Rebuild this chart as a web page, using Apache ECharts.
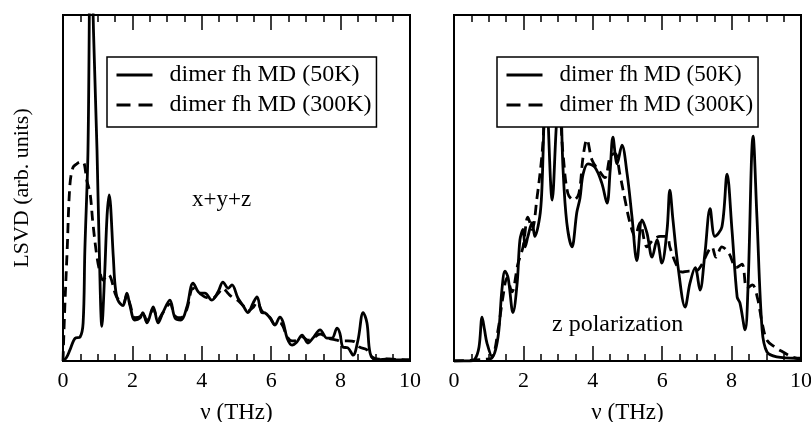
<!DOCTYPE html>
<html>
<head>
<meta charset="utf-8">
<script src="https://cdn.jsdelivr.net/npm/echarts@6/dist/echarts.min.js"></script>
<style>
  html, body { margin: 0; padding: 0; background: #fff; }
  #chart { width: 811px; height: 422px; }
</style>
</head>
<body>
<div id="chart"></div>
<script>
// Frequency axis ticks (THz)
const freqTicks = [0, 2, 4, 6, 8, 10];
const seriesNames = ['dimer fh MD (50K)', 'dimer fh MD (300K)'];
const panelLabels = ['x+y+z', 'z polarization'];

// Panel 1: x+y+z, 50 K
const xyzFreq50 = [0, 0.1, 0.2, 0.35, 0.49, 0.58, 0.63, 0.72, 0.8, 0.88, 0.98, 1.05, 1.12, 1.2, 1.27, 1.33, 1.45, 1.5, 1.58, 1.73, 1.84, 1.93, 2.07, 2.22, 2.3, 2.42, 2.6, 2.74, 2.88, 3.08, 3.23, 3.4, 3.57, 3.75, 3.95, 4.09, 4.29, 4.47, 4.61, 4.76, 4.87, 5.04, 5.19, 5.33, 5.48, 5.59, 5.73, 5.82, 5.97, 6.11, 6.25, 6.34, 6.46, 6.6, 6.74, 6.89, 7.06, 7.2, 7.41, 7.61, 7.75, 7.9, 7.98, 8.07, 8.21, 8.36, 8.5, 8.65, 8.76, 8.85, 9.0, 9.3, 9.6, 10];
const xyzLsvd50 = [0, 1, 3.2, 6.6, 6.9, 11, 32, 61, 130, 95, 61, 30, 10, 25, 42, 48, 30, 22, 17.6, 16, 19.6, 16, 11.8, 12.4, 14, 11, 15.6, 11, 14, 17.6, 12.4, 11.8, 15.6, 22.5, 19.6, 19.6, 17.6, 20, 22.8, 21, 22, 18.2, 16, 14, 16.8, 18.5, 14, 13.9, 12.4, 10.4, 12.7, 11.3, 6.6, 4.6, 5.5, 7.5, 5.2, 6.6, 9, 6.6, 6.6, 9.5, 8, 4, 3.8, 1.7, 6, 14, 11, 2.3, 0.3, 0.5, 0.3, 0.3];

// Panel 1: x+y+z, 300 K
const xyzFreq300 = [0, 0.05, 0.12, 0.2, 0.29, 0.4, 0.5, 0.58, 0.69, 0.78, 0.86, 0.98, 1.08, 1.15, 1.3, 1.38, 1.5, 1.58, 1.73, 1.84, 1.93, 2.07, 2.22, 2.3, 2.42, 2.6, 2.74, 2.88, 3.08, 3.23, 3.4, 3.57, 3.75, 3.95, 4.09, 4.29, 4.47, 4.61, 4.76, 4.87, 5.04, 5.19, 5.33, 5.48, 5.59, 5.73, 5.82, 5.97, 6.11, 6.25, 6.34, 6.46, 6.6, 6.74, 6.89, 7.06, 7.2, 7.41, 7.61, 7.75, 7.9, 8.0, 8.21, 8.4, 8.55, 8.76, 8.9, 9.1, 9.4, 9.7, 10];
const xyzLsvd300 = [0, 15, 32, 51, 56, 57, 57.5, 57.5, 52, 48.5, 40, 30, 25, 23.4, 25, 24, 19.6, 18, 16.5, 19, 16.5, 12.5, 12.8, 14, 11.5, 15, 12, 14, 16.5, 13, 12.5, 15, 21, 19.5, 18.5, 18, 19.5, 21, 19.5, 18.5, 17.5, 16, 14.5, 15.5, 17, 14.5, 13.5, 12.5, 10.5, 11, 10, 7, 5.8, 6, 7, 6, 6.5, 7.8, 6.8, 6.3, 6, 5.8, 5.8, 5.6, 4, 3.2, 1.2, 0.5, 0.6, 0.4, 0.3];

// Panel 2: z polarization, 50 K
const zFreq50 = [0, 0.46, 0.6, 0.72, 0.81, 0.88, 0.95, 1.1, 1.27, 1.38, 1.47, 1.56, 1.7, 1.82, 1.9, 1.99, 2.05, 2.13, 2.25, 2.33, 2.47, 2.53, 2.65, 2.83, 2.95, 3.05, 3.14, 3.25, 3.4, 3.54, 3.63, 3.72, 3.86, 4.06, 4.26, 4.41, 4.5, 4.58, 4.7, 4.84, 4.99, 5.13, 5.27, 5.42, 5.56, 5.71, 5.85, 5.99, 6.14, 6.22, 6.31, 6.46, 6.66, 6.8, 6.95, 7.09, 7.23, 7.38, 7.52, 7.72, 7.87, 8.01, 8.16, 8.24, 8.39, 8.47, 8.62, 8.73, 8.88, 9.02, 9.3, 9.88, 10];
const zLsvd50 = [0, 0, 0.5, 4, 12.7, 9, 5.2, 1.2, 7, 20.5, 26, 24, 14, 22.5, 35, 38, 33, 36, 40, 36, 41.6, 49, 80, 46.5, 68, 80, 56, 40, 33, 43, 47, 54, 57, 56, 51.4, 45.6, 55, 64.7, 57, 62.4, 54, 41.6, 29, 40.8, 37, 30, 35, 28.3, 37.9, 49.4, 40.8, 27, 15.6, 22.5, 27, 20.5, 31, 44, 36, 38.7, 54, 38, 18.5, 16.8, 9, 20.5, 65, 41.6, 9, 2.6, 1.2, 0.8, 0.8];

// Panel 2: z polarization, 300 K
const zFreq300 = [0, 0.9, 1.1, 1.27, 1.41, 1.53, 1.67, 1.84, 1.99, 2.13, 2.25, 2.39, 2.53, 2.68, 2.8, 3.0, 3.14, 3.28, 3.45, 3.6, 3.72, 3.83, 3.98, 4.18, 4.35, 4.5, 4.64, 4.78, 4.93, 5.07, 5.22, 5.36, 5.56, 5.74, 5.94, 6.14, 6.22, 6.4, 6.57, 6.77, 6.97, 7.15, 7.29, 7.43, 7.55, 7.72, 7.93, 8.13, 8.3, 8.44, 8.6, 8.75, 8.88, 9.02, 9.25, 9.48, 9.74, 10];
const zLsvd300 = [0, 0.5, 1, 9, 18.5, 24, 20, 28, 33, 41.6, 38, 47, 59, 76, 70, 74, 60, 48.5, 46.5, 48.5, 59, 64, 58, 55, 53, 59, 60, 54, 46.5, 40, 36, 40, 33, 35, 36, 36, 33, 28, 25.7, 26, 26, 28, 31, 33, 30, 33, 31, 27, 28, 21, 22, 18, 11, 6, 4, 2.6, 1.2, 0.5];

const serif = 'Liberation Serif';
const zip = (xs, ys) => xs.map((x, i) => [x, ys[i]]);

const gridBox = [
  { left: 63, top: 15, width: 347, height: 346 },
  { left: 454, top: 15, width: 347, height: 346 }
];

function freqAxis(gridIndex, position) {
  const bottom = position === 'bottom';
  return {
    type: 'value', gridIndex, position,
    min: freqTicks[0], max: freqTicks[freqTicks.length - 1], interval: 2,
    name: bottom ? 'ν (THz)' : '', nameLocation: 'middle', nameGap: 40,
    nameTextStyle: { fontFamily: serif, fontSize: 23, color: '#000' },
    axisLine: { show: true, lineStyle: { color: '#000', width: 2 } },
    axisTick: { show: true, inside: true, length: 15, lineStyle: { color: '#000', width: 1.5 } },
    minorTick: { show: true, splitNumber: 4, length: 7, lineStyle: { color: '#000', width: 1.5 } },
    axisLabel: { show: bottom, fontFamily: serif, fontSize: 22, color: '#000', margin: 9 },
    splitLine: { show: false }
  };
}

function lsvdAxis(gridIndex, named) {
  return {
    type: 'value', gridIndex, min: 0, max: 100,
    name: named ? 'LSVD (arb. units)' : '', nameLocation: 'middle', nameGap: 30,
    nameTextStyle: { fontFamily: serif, fontSize: 22, color: '#000' },
    axisLine: { show: true, lineStyle: { color: '#000', width: 2 } },
    axisTick: { show: false }, axisLabel: { show: false }, splitLine: { show: false }
  };
}

function curve(name, xAxisIndex, yAxisIndex, data, dashed) {
  return {
    name, type: 'line', xAxisIndex, yAxisIndex, data,
    showSymbol: false, symbol: 'none', smooth: 0.35, animation: false,
    lineStyle: { color: '#000', width: 2.8, type: dashed ? [10, 6] : 'solid' },
    itemStyle: { color: '#000' }
  };
}

function legendBox(left, fontSize) {
  return {
    left, top: 57, orient: 'vertical',
    data: [
      { name: seriesNames[0] },
      { name: seriesNames[1], lineStyle: { type: [14, 8] } }
    ],
    backgroundColor: '#fff', borderColor: '#000', borderWidth: 1.5,
    padding: [6, 5, 10, 8], itemGap: 6, itemWidth: 36, itemHeight: 24,
    itemStyle: { opacity: 0 },
    lineStyle: { width: 3 },
    textStyle: { fontFamily: serif, fontSize, color: '#000', lineHeight: 24, padding: [0, 0, 0, 12] },
    selectedMode: false
  };
}

const chart = echarts.init(document.getElementById('chart'), null, { renderer: 'canvas' });
chart.setOption({
  animation: false,
  backgroundColor: '#fff',
  grid: gridBox.map(g => Object.assign({
    show: true, borderColor: '#000', borderWidth: 2, backgroundColor: 'transparent',
    containLabel: false, outerBoundsMode: 'none'
  }, g)),
  xAxis: [freqAxis(0, 'bottom'), freqAxis(0, 'top'), freqAxis(1, 'bottom'), freqAxis(1, 'top')],
  yAxis: [lsvdAxis(0, true), lsvdAxis(1, false)],
  legend: [legendBox(107, 24), legendBox(497, 23)],
  series: [
    curve(seriesNames[0], 0, 0, zip(xyzFreq50, xyzLsvd50), false),
    curve(seriesNames[1], 0, 0, zip(xyzFreq300, xyzLsvd300), true),
    curve(seriesNames[0], 2, 1, zip(zFreq50, zLsvd50), false),
    curve(seriesNames[1], 2, 1, zip(zFreq300, zLsvd300), true)
  ],
  graphic: [
    { type: 'text', left: 192, top: 188, style: { text: panelLabels[0], font: '23px "Liberation Serif"', fill: '#000' } },
    { type: 'text', left: 552, top: 313, style: { text: panelLabels[1], font: '24px "Liberation Serif"', fill: '#000' } }
  ]
});
</script>
</body>
</html>
